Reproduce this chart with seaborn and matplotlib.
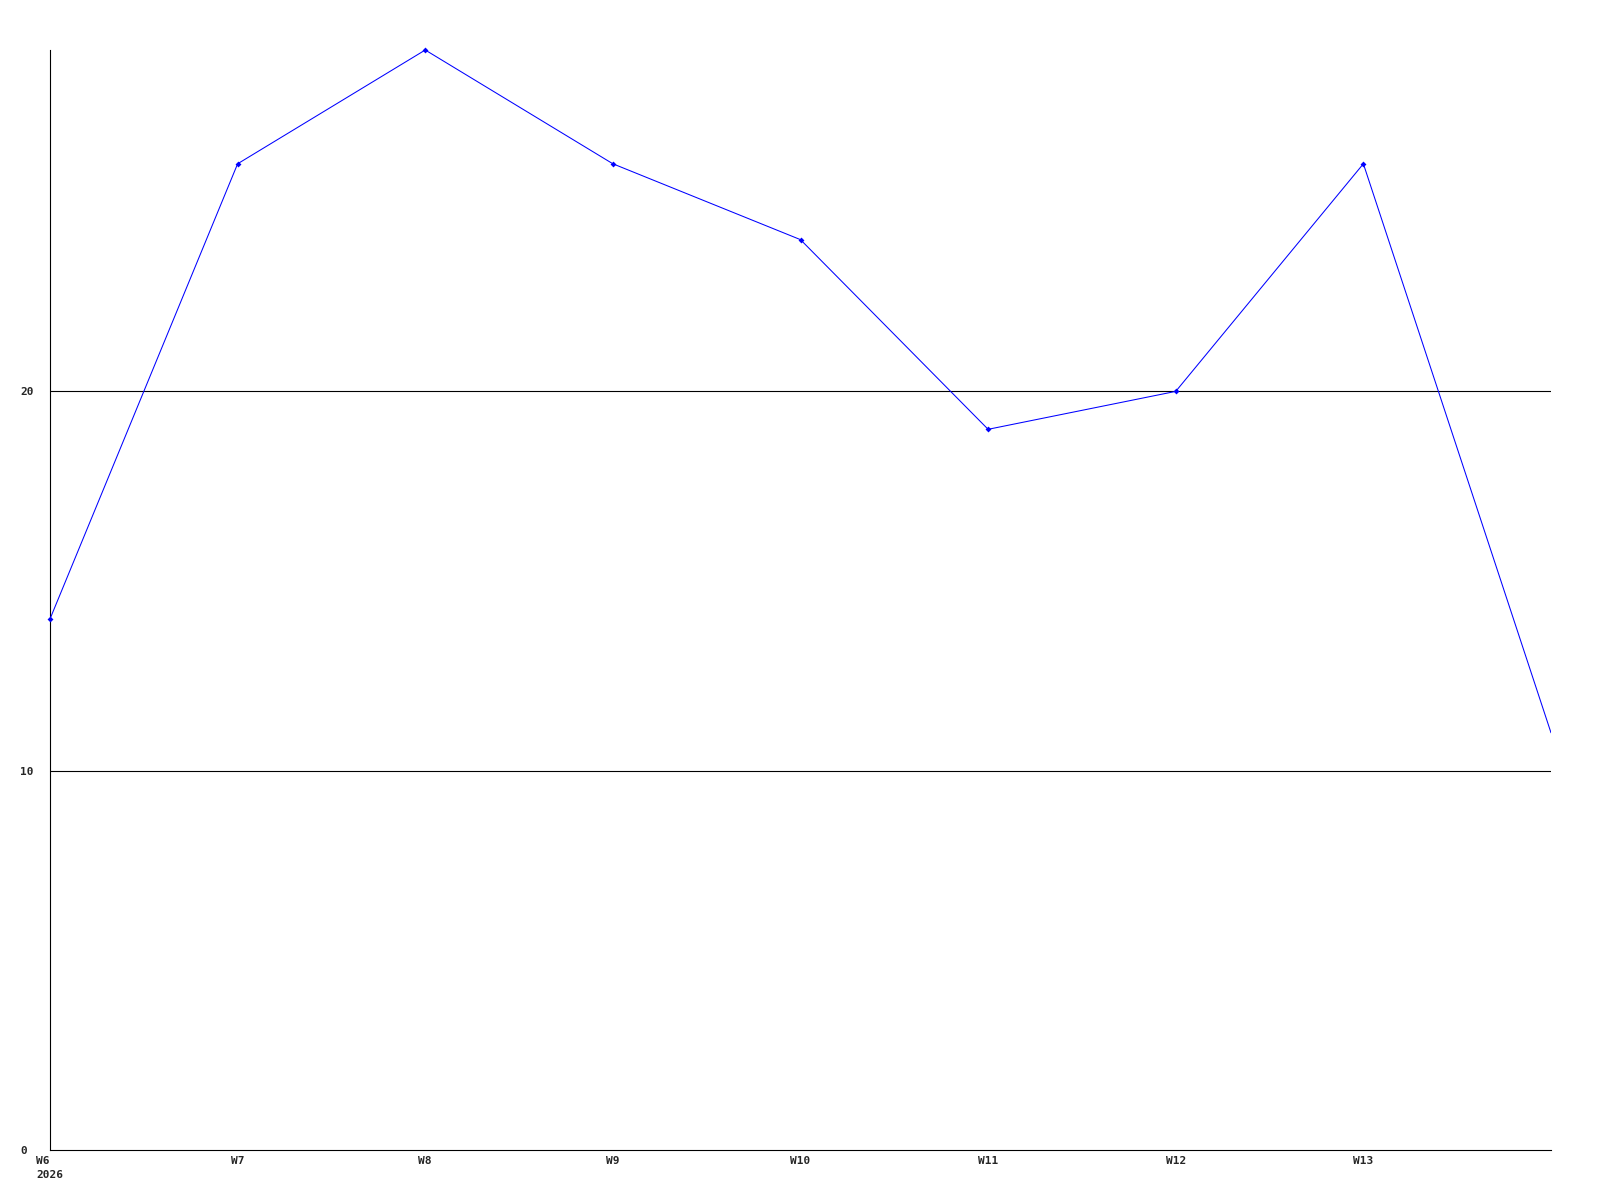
import numpy as np
import pandas as pd
import matplotlib
matplotlib.use("Agg")
import matplotlib.pyplot as plt
import seaborn as sns

# ==================== DATA ====================
WEEK_LABELS = ['W6\n2026', 'W7', 'W8', 'W9', 'W10', 'W11', 'W12', 'W13']
VALUES = [14, 26, 29, 26, 24, 19, 20, 26, 11]   # last point = W14 (no label)
Y_TICKS = [0, 10, 20]

df = pd.DataFrame({'week': np.arange(len(VALUES)), 'value': VALUES})

# ==================== PLOT ====================
sns.set_style('white')
plt.rcParams['font.family'] = ['DejaVu Sans Mono']

fig = plt.figure(figsize=(16, 12), dpi=100)
ax = fig.add_axes([50 / 1600, 1 - 1150 / 1200, 1501 / 1600, 1100 / 1200])

for y in Y_TICKS[1:]:
    ax.axhline(y, color='black', linewidth=0.8, zorder=1)

sns.lineplot(data=df, x='week', y='value', ax=ax, color='#0000ff',
             linewidth=0.75, zorder=3)
# markers on every labelled week (not on the trailing point)
sns.scatterplot(data=df.iloc[:-1], x='week', y='value', ax=ax,
                color='#0000ff', marker='D', s=9, linewidth=0, zorder=4,
                clip_on=False)

ax.set_xlim(0, len(VALUES) - 1)
ax.set_ylim(0, 29)
ax.set_xticks(np.arange(len(WEEK_LABELS)))
ax.set_xticklabels(WEEK_LABELS, fontsize=8, fontweight='bold',
                   multialignment='left', linespacing=1.5)
ax.set_yticks(Y_TICKS)
ax.set_yticklabels([str(t) for t in Y_TICKS], fontsize=8, fontweight='bold',
                   ha='left')
ax.tick_params(axis='both', length=0)
ax.tick_params(axis='y', pad=21.5)
ax.tick_params(axis='x', pad=4)
ax.set_xlabel('')
ax.set_ylabel('')

for side in ['top', 'right']:
    ax.spines[side].set_visible(False)
for side in ['left', 'bottom']:
    ax.spines[side].set_color('black')
    ax.spines[side].set_linewidth(0.8)

fig.savefig('out.png', dpi=100, facecolor='white')
